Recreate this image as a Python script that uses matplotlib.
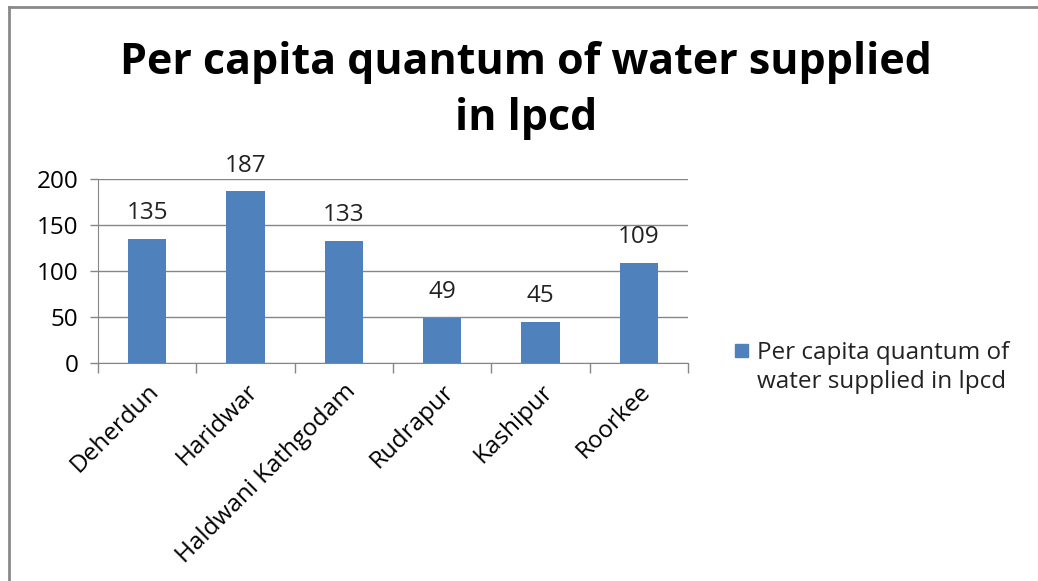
import matplotlib
matplotlib.use("Agg")
import matplotlib.pyplot as plt
from matplotlib.lines import Line2D
from matplotlib.patches import Rectangle

towns = ["Deherdun", "Haridwar", "Haldwani Kathgodam", "Rudrapur", "Kashipur", "Roorkee"]
lpcd = [135, 187, 133, 49, 45, 109]
yticks = [0, 50, 100, 150, 200]
series_name = "Per capita quantum of\nwater supplied in lpcd"
title = "Per capita quantum of water supplied\nin lpcd"

bar_color = "#4F81BD"
line_color = "#868686"
label_size = 17.5

plt.rcParams["font.family"] = ["Open Sans", "DejaVu Sans"]

fig = plt.figure(figsize=(10.38, 5.81), dpi=100)
ax = fig.add_axes([0.0944, 0.3752, 0.5684, 0.3167])

x = list(range(len(towns)))
bars = ax.bar(x, lpcd, width=0.39, color=bar_color, zorder=3)
for b, v in zip(bars, lpcd):
    ax.annotate(str(v), (b.get_x() + b.get_width() / 2, v), xytext=(0, 14),
                textcoords="offset points", ha="center", va="baseline",
                fontsize=label_size, color="#222222")

ax.set_xlim(-0.5, len(towns) - 0.5)
ax.set_ylim(0, 200)
ax.set_yticks(yticks)
ax.set_yticklabels([str(t) for t in yticks], fontsize=label_size)
ax.tick_params(axis="y", length=6, width=1, color=line_color, pad=8)
ax.grid(axis="y", color=line_color, linewidth=1, zorder=0)

# names under the bars, tick marks on the category borders
ax.set_xticks(x)
ax.set_xticklabels(towns, rotation=45, ha="right", va="top", rotation_mode="anchor",
                   fontsize=label_size)
ax.tick_params(axis="x", length=0, pad=12)
ax.set_xticks([i - 0.5 for i in range(len(towns) + 1)], minor=True)
ax.tick_params(axis="x", which="minor", length=7, width=1, color=line_color)

for s in ["top", "right"]:
    ax.spines[s].set_visible(False)
ax.spines["left"].set_color(line_color)
ax.spines["bottom"].set_color(line_color)

fig.text(0.507, 0.93, title, ha="center", va="top", fontsize=31, fontweight="bold",
         linespacing=1.4)

# legend: square next to the first line of the series name
fig.add_artist(Rectangle((0.7081, 0.3855), 0.0125, 0.0224, color=bar_color,
                         transform=fig.transFigure))
fig.text(0.7293, 0.3675, series_name, ha="left", va="center", fontsize=label_size,
         color="#222222", linespacing=1.3)

# outer chart border
fig.add_artist(Line2D([0.0087, 0.0087], [0.0, 0.988], color="#898989", linewidth=2))
fig.add_artist(Line2D([0.0087, 1.0], [0.988, 0.988], color="#898989", linewidth=2))

fig.savefig("out.png", dpi=100)
